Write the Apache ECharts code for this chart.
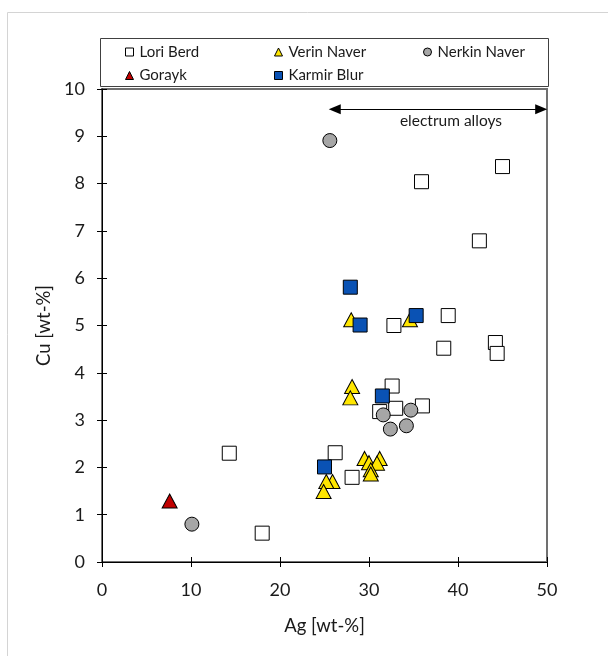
<!DOCTYPE html>
<html>
<head>
<meta charset="utf-8">
<script src="https://cdn.jsdelivr.net/npm/echarts@6/dist/echarts.min.js"></script>
<style>
  html, body { margin: 0; padding: 0; background: #fff; }
  #chart { width: 608px; height: 656px; }
</style>
</head>
<body>
<div id="chart"></div>
<script>
// Ag / Cu contents (wt-%) of gold artefacts by find site
const loriBerd = [
  [14.3, 2.30], [18.0, 0.61], [26.2, 2.31], [28.1, 1.79], [32.8, 5.00],
  [32.6, 3.72], [31.2, 3.18], [33.0, 3.25], [36.0, 3.30], [35.9, 8.04],
  [38.4, 4.52], [38.9, 5.21], [42.4, 6.79], [45.0, 8.36], [44.2, 4.64],
  [44.4, 4.41]
];
const verinNaver = [
  [28.0, 5.12], [34.6, 5.12], [28.1, 3.71], [27.9, 3.47], [29.5, 2.19],
  [30.0, 2.10], [31.2, 2.19], [30.9, 2.09], [30.2, 1.95], [30.2, 1.86],
  [25.9, 1.70], [25.2, 1.70], [24.9, 1.49]
];
const nerkinNaver = [
  [25.6, 8.91], [10.1, 0.80], [31.6, 3.11], [34.7, 3.21], [32.4, 2.81],
  [34.2, 2.88]
];
const gorayk = [
  [7.6, 1.29]
];
const karmirBlur = [
  [27.9, 5.81], [29.0, 5.01], [35.3, 5.21], [31.5, 3.51], [25.0, 2.01]
];

// electrum range marker (Ag from ~25 wt-% upwards)
const electrumRange = [25.5, 50];
const electrumLevel = 9.57;
const electrumLabel = 'electrum alloys';

const xTicks = { min: 0, max: 50, interval: 10 };
const yTicks = { min: 0, max: 10, interval: 1 };

const FONT = 'Lato, "Open Sans", sans-serif';
const TEXT = '#1a1a1a';

const chart = echarts.init(document.getElementById('chart'), null, { renderer: 'canvas' });

function legendItem(name, icon, left, top, style) {
  return {
    data: [name],
    left: left,
    top: top,
    padding: 0,
    icon: icon,
    itemWidth: 8,
    itemHeight: 8,
    selectedMode: false,
    itemStyle: Object.assign({ borderColor: '#000', borderWidth: 1 }, style),
    textStyle: { fontFamily: FONT, fontSize: 15, color: TEXT, padding: [0, 0, 0, 1] }
  };
}

function markers(name, data, symbol, size, fill) {
  return {
    name: name,
    type: 'scatter',
    data: data,
    symbol: symbol,
    symbolSize: size,
    itemStyle: { color: fill, borderColor: '#000', borderWidth: 1, opacity: 1 },
    emphasis: { disabled: true },
    silent: true
  };
}

const arrowPad = 0.65; // half an arrow head, in Ag units

const option = {
  animation: false,
  backgroundColor: '#fff',
  textStyle: { fontFamily: FONT },
  grid: {
    left: 102, top: 89, width: 445, height: 473,
    show: true, borderColor: '#707070', borderWidth: 2, backgroundColor: 'transparent'
  },
  graphic: [
    // outer frame (left and top edges)
    { type: 'line', shape: { x1: 7.5, y1: 12.5, x2: 608, y2: 12.5 }, style: { stroke: '#d4d4d4', lineWidth: 1 }, z: 0 },
    { type: 'line', shape: { x1: 7.5, y1: 12.5, x2: 7.5, y2: 656 }, style: { stroke: '#d4d4d4', lineWidth: 1 }, z: 0 },
    // legend box
    { type: 'rect', shape: { x: 100.5, y: 38.5, width: 448, height: 48 }, style: { fill: '#fff', stroke: '#404040', lineWidth: 1 }, z: 1 }
  ],
  legend: [
    legendItem('Lori Berd', 'rect', 125, 44.5, { color: '#fff' }),
    legendItem('Verin Naver', 'triangle', 274, 44.5, { color: '#ffe600' }),
    legendItem('Nerkin Naver', 'circle', 423, 44.5, { color: '#a6a6a6' }),
    legendItem('Gorayk', 'triangle', 125, 68, { color: '#c00000' }),
    legendItem('Karmir Blur', 'rect', 274, 68, { color: '#0a52b4' })
  ],
  xAxis: [
    {
      type: 'value', min: xTicks.min, max: xTicks.max, interval: xTicks.interval,
      name: 'Ag [wt-%]', nameLocation: 'middle', nameGap: 55,
      nameTextStyle: { fontFamily: FONT, fontSize: 18.5, color: TEXT },
      axisLine: { show: true, onZero: false, lineStyle: { color: '#000', width: 1 } },
      axisTick: { show: true, inside: false, length: 5, lineStyle: { color: '#000', width: 1 } },
      axisLabel: { fontFamily: FONT, fontSize: 18, color: TEXT, margin: 19 },
      splitLine: { show: false }
    },
    {
      type: 'value', min: xTicks.min, max: xTicks.max, interval: xTicks.interval, position: 'bottom',
      axisLine: { show: false },
      axisTick: { show: true, inside: true, length: 5, lineStyle: { color: '#000', width: 1 } },
      axisLabel: { show: false },
      splitLine: { show: false }
    }
  ],
  yAxis: [
    {
      type: 'value', min: yTicks.min, max: yTicks.max, interval: yTicks.interval,
      name: 'Cu [wt-%]', nameLocation: 'middle', nameGap: 48,
      nameTextStyle: { fontFamily: FONT, fontSize: 18.5, color: TEXT },
      axisLine: { show: true, onZero: false, lineStyle: { color: '#000', width: 1 } },
      axisTick: { show: true, inside: false, length: 5, lineStyle: { color: '#000', width: 1 } },
      axisLabel: { fontFamily: FONT, fontSize: 18, color: TEXT, margin: 17 },
      splitLine: { show: false }
    },
    {
      type: 'value', min: yTicks.min, max: yTicks.max, interval: yTicks.interval, position: 'left',
      axisLine: { show: false },
      axisTick: { show: true, inside: true, length: 5, lineStyle: { color: '#000', width: 1 } },
      axisLabel: { show: false },
      splitLine: { show: false }
    }
  ],
  series: [
    markers('Lori Berd', loriBerd, 'rect', 14, '#ffffff'),
    markers('Verin Naver', verinNaver, 'triangle', [15, 14], '#ffe600'),
    markers('Nerkin Naver', nerkinNaver, 'circle', 14, '#a6a6a6'),
    markers('Gorayk', gorayk, 'triangle', [15, 14], '#c00000'),
    markers('Karmir Blur', karmirBlur, 'rect', 14, '#0a52b4'),
    {
      name: 'electrum',
      type: 'scatter',
      data: [],
      silent: true,
      markLine: {
        silent: true,
        symbol: ['triangle', 'triangle'],
        symbolSize: [10, 12],
        lineStyle: { color: '#000', width: 1, type: 'solid' },
        label: {
          show: true,
          position: 'insideMiddleBottom',
          distance: 4,
          padding: [0, 0, 0, 26],
          formatter: electrumLabel,
          fontFamily: FONT, fontSize: 15.5, color: TEXT
        },
        data: [[
          { coord: [electrumRange[0] + arrowPad, electrumLevel] },
          { coord: [electrumRange[1] - arrowPad, electrumLevel] }
        ]]
      }
    }
  ]
};

chart.setOption(option);
</script>
</body>
</html>
